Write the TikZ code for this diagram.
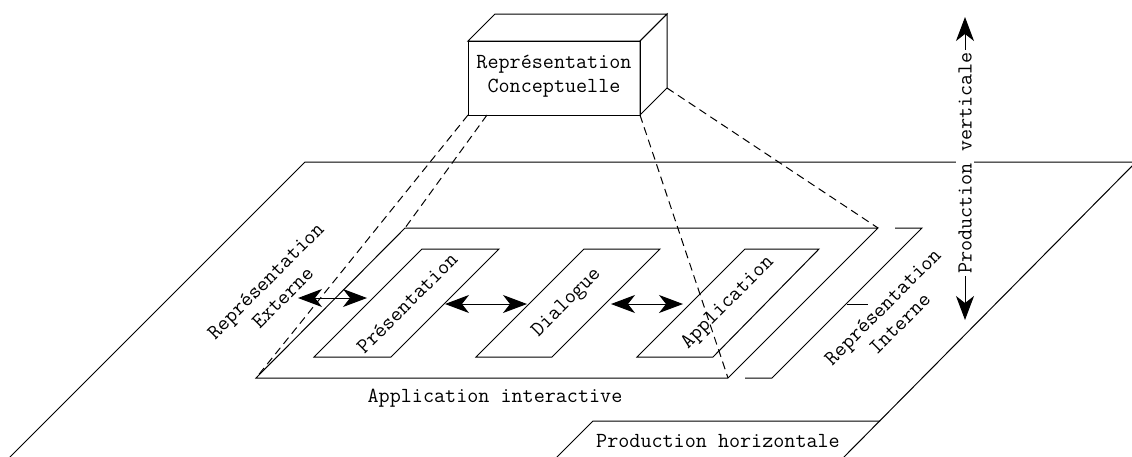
\documentclass[tikz,border=0pt]{standalone}
\usepackage{fontspec}
\usetikzlibrary{arrows.meta}
\begin{document}
\begin{tikzpicture}[x=1pt,y=-1pt,line width=1pt,line join=miter,
  lbl/.style={font=\fontsize{21.5}{24}\selectfont\ttfamily,inner sep=0pt,align=center},
  dbl/.style={{Stealth[length=24pt,width=18pt,inset=7pt]}-{Stealth[length=24pt,width=18pt,inset=7pt]},line width=1pt},
  dashline/.style={dash pattern=on 8pt off 5pt,line width=1pt}]
\useasboundingbox (0,0) rectangle (1132,456);
\clip (0,0) rectangle (1132,456);
% coordinates
\coordinate (P1) at (305,162);
\coordinate (P2) at (1136,162);
\coordinate (P3) at (842,459);
\coordinate (P4) at (8,459);
\coordinate (H1) at (593,421);
\coordinate (H2) at (880,421);
\coordinate (H3) at (555,459);
\coordinate (A1) at (256,378);
\coordinate (A2) at (405,228);
\coordinate (A3) at (878,228);
\coordinate (A4) at (728,378);
\coordinate (I1) at (895,228);
\coordinate (I2) at (922,228);
\coordinate (I3) at (772,378);
\coordinate (I4) at (745,378);
\coordinate (L1) at (847,304);
\coordinate (L2) at (868,304);
\coordinate (F1) at (468,41);
\coordinate (F2) at (640,41);
\coordinate (F3) at (640,115);
\coordinate (F4) at (468,115);
\coordinate (F5) at (487,115);
\coordinate (B1) at (495,14);
\coordinate (B2) at (667,14);
\coordinate (B3) at (667,88);
\coordinate (V1) at (965,17);
\coordinate (V2) at (965,320);
\coordinate (E1) at (298,298);
\coordinate (E2) at (367,298);
\coordinate (D1) at (445,304);
\coordinate (D2) at (527,304);
\coordinate (G1) at (611,304);
\coordinate (G2) at (683,304);
% horizontal plane
\draw (P4) -- (P1) -- (P2) -- (P3);
\draw (H3) -- (H1) -- (H2);
\node[lbl] (horiz) at (718,441) {Production horizontale};
% vertical arrow and label
\draw[dbl] (V1) -- (V2);
\node[lbl,rotate=90,fill=white,inner sep=2.5pt] (vert) at (965,163) {Production verticale};
% platform
\draw (A1) -- (A2) -- (A3) -- (A4) -- cycle;
\draw (I1) -- (I2) -- (I3) -- (I4);
\draw (L1) -- (L2);
\node[lbl] (appint) at (495,398) {Application interactive};
% inner boxes
\draw (314,357) -- (422,249) -- (499,249) -- (391,357) -- cycle;
\draw (476,357) -- (584,249) -- (660,249) -- (552,357) -- cycle;
\draw (637,357) -- (745,249) -- (819,249) -- (713,357) -- cycle;
\node[lbl,rotate=45] (pres) at (407,303) {Présentation};
\node[lbl,rotate=45] (dial) at (567,303) {Dialogue};
\node[lbl,rotate=45] (appl) at (728,303) {Application};
% arrows
\draw[dbl] (E1) -- (E2);
\draw[dbl] (D1) -- (D2);
\draw[dbl] (G1) -- (G2);
% labels
\node[lbl,rotate=45] (ext) at (274,289) {Représentation\\Externe};
\node[lbl,rotate=45] (int) at (891,315) {Représentation\\Interne};
% conceptual box
\draw (F1) -- (B1) -- (B2) -- (F2) -- cycle;
\draw (F2) -- (B2) -- (B3) -- (F3) -- cycle;
\draw (F1) rectangle (F3);
\node[lbl] (concept) at (554,76) {Représentation\\Conceptuelle};
% projection lines
\draw[dashline] (F4) -- (A1);
\draw[dashline] (F5) -- (A2);
\draw[dashline] (F3) -- (A4);
\draw[dashline] (B3) -- (A3);
\end{tikzpicture}
\end{document}
